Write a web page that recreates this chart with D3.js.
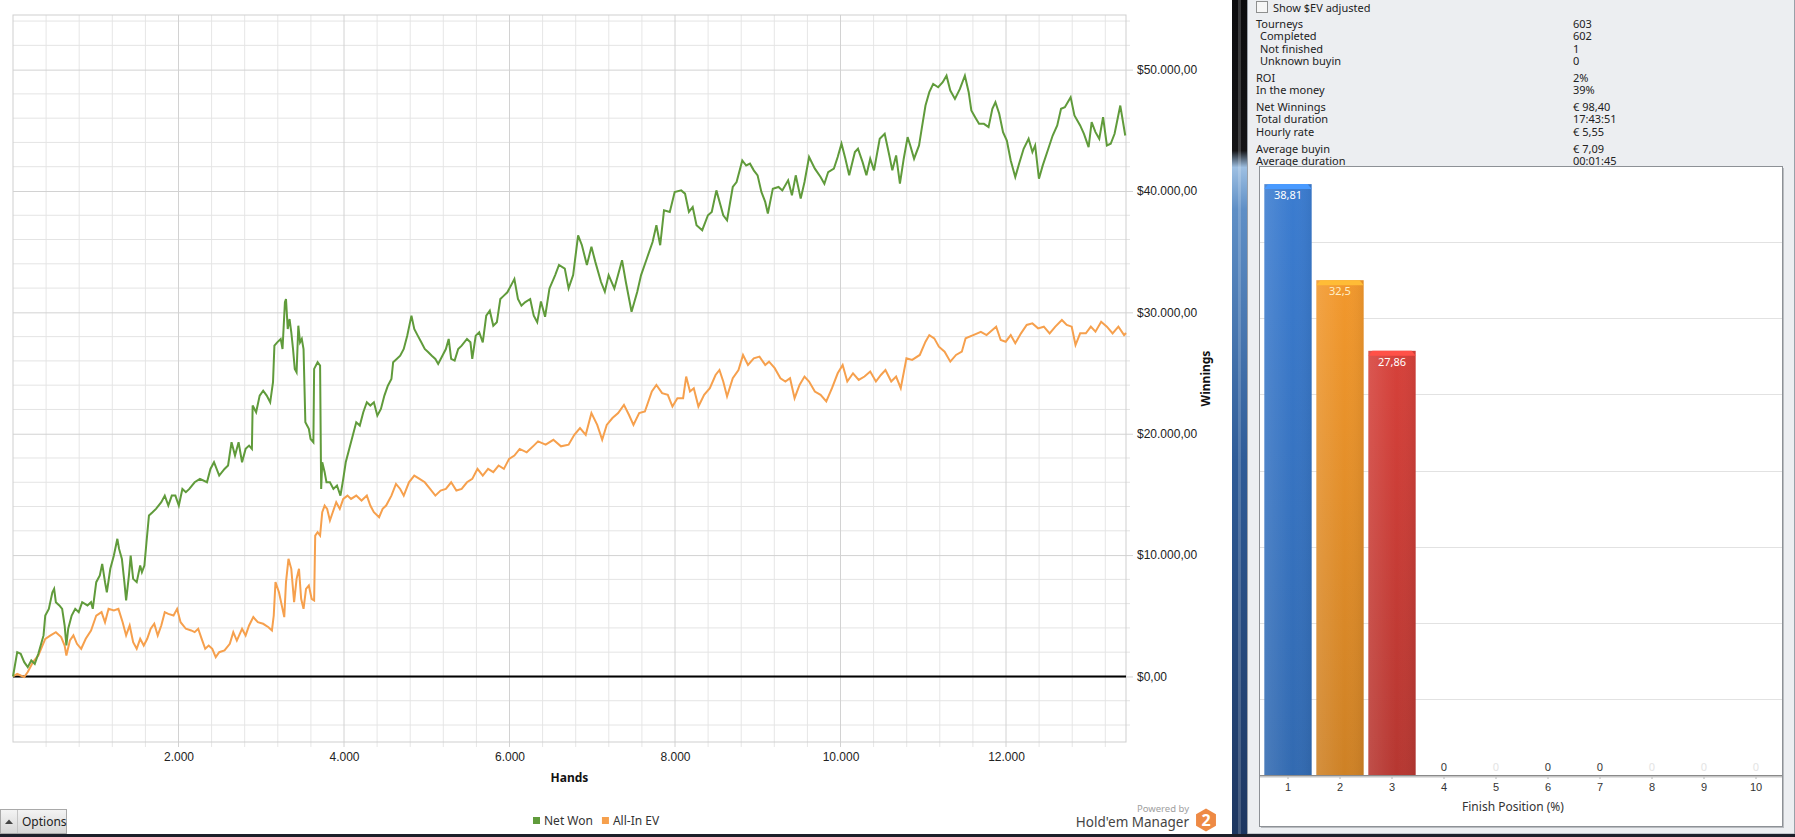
<!DOCTYPE html>
<html>
<head>
<meta charset="utf-8">
<script src="https://cdn.jsdelivr.net/npm/d3@7"></script>
<style>
body { margin: 0; background: #fff; }
svg { display: block; font-family: "Segoe UI", "Noto Sans", "Open Sans", sans-serif; }
</style>
</head>
<body>
<svg id="chart" width="1795" height="837"></svg>
<script>
// ---- data ----
// [hand, winnings]
const netWon = [[0,0],[51,2000],[93,1870],[136,1180],[178,770],[221,1320],[263,1040],[306,1870],[369,3380],[390,5020],[433,5570],[476,6940],[497,7220],[518,6120],[560,5850],[594,5570],[624,4200],[645,2550],[667,3930],[709,5020],[752,5570],[794,5300],[836,6120],[900,5850],[943,6120],[964,5570],[1006,7770],[1049,8320],[1078,9280],[1112,7770],[1134,6940],[1176,8870],[1219,9960],[1261,11340],[1282,10510],[1316,9690],[1346,7770],[1367,6260],[1401,8320],[1422,9960],[1452,8040],[1495,7770],[1537,9140],[1558,8590],[1588,9140],[1613,11060],[1643,13260],[1686,13530],[1728,13810],[1792,14360],[1834,14900],[1877,14080],[1919,14900],[1962,14900],[2004,14080],[2047,15450],[2089,15180],[2131,15450],[2195,16000],[2259,16280],[2344,16000],[2386,17100],[2429,17650],[2492,16550],[2556,17100],[2599,17380],[2641,19300],[2683,18200],[2726,19300],[2768,17650],[2811,18750],[2853,19020],[2887,18750],[2896,22320],[2938,21770],[2981,23140],[3023,23550],[3066,23140],[3108,22590],[3142,24240],[3159,27260],[3193,27530],[3235,27810],[3257,26980],[3286,30830],[3299,31100],[3320,28630],[3342,29450],[3363,28360],[3384,26980],[3405,25340],[3427,25060],[3448,28900],[3469,27530],[3490,27810],[3511,26980],[3533,20940],[3575,20400],[3596,19570],[3630,19300],[3639,25340],[3681,25890],[3711,25610],[3724,15450],[3737,17650],[3766,16830],[3788,16000],[3830,16000],[3872,15450],[3915,15730],[3957,14900],[3991,16280],[4021,17650],[4063,18750],[4106,19850],[4148,20940],[4191,20670],[4233,21770],[4276,22590],[4318,22320],[4361,22590],[4403,21490],[4446,22040],[4488,23140],[4530,23960],[4573,24510],[4594,25890],[4637,26160],[4679,26430],[4722,26980],[4764,28080],[4815,29730],[4849,28630],[4891,28080],[4934,27530],[4976,26980],[5019,26710],[5061,26430],[5104,26160],[5138,25750],[5189,26430],[5231,26980],[5265,27810],[5295,26160],[5337,26020],[5380,26980],[5422,27260],[5486,27810],[5528,27530],[5550,26160],[5592,28080],[5634,28360],[5677,27530],[5719,29730],[5762,30140],[5804,28900],[5847,29180],[5889,31100],[5932,31380],[5974,31650],[6017,32200],[6059,32750],[6102,31100],[6144,30550],[6187,30830],[6250,31100],[6293,29730],[6335,29180],[6380,30900],[6430,29640],[6483,31970],[6552,33070],[6598,33900],[6668,33600],[6714,31970],[6769,33070],[6829,36350],[6875,35530],[6935,33900],[6990,35400],[7037,34160],[7106,32500],[7152,31700],[7198,33070],[7267,31970],[7360,34300],[7406,32500],[7475,30050],[7544,31700],[7590,33070],[7660,34440],[7729,35800],[7775,37180],[7821,35530],[7867,38410],[7937,38270],[7996,39920],[8075,40050],[8121,39780],[8168,38270],[8214,38680],[8260,37180],[8329,36770],[8398,38000],[8444,38270],[8500,40050],[8550,38820],[8583,38000],[8629,37590],[8698,40330],[8744,40740],[8813,42520],[8860,42100],[8906,42250],[8952,41700],[8998,41290],[9044,39920],[9090,39100],[9122,38140],[9182,40190],[9251,40330],[9297,40050],[9367,40880],[9413,39640],[9459,41290],[9519,39370],[9565,40740],[9620,42800],[9690,41840],[9759,41150],[9805,40600],[9851,41560],[9920,41840],[9966,42800],[10012,43900],[10059,42660],[10105,41290],[10174,43210],[10211,43480],[10267,42380],[10313,41290],[10359,42660],[10405,41700],[10474,44300],[10534,44710],[10590,42930],[10626,41700],[10672,42930],[10718,40600],[10764,42660],[10811,44440],[10843,43750],[10889,42660],[10949,43750],[10981,45120],[11027,47040],[11073,48140],[11120,48820],[11180,48550],[11235,48960],[11281,49500],[11327,48270],[11383,47590],[11443,48410],[11503,49500],[11549,48140],[11581,46630],[11627,46080],[11674,45530],[11733,45530],[11789,45260],[11835,46770],[11872,47310],[11918,46360],[11964,44850],[12010,44160],[12057,42520],[12112,41150],[12158,42250],[12213,43480],[12273,44300],[12319,43210],[12352,43750],[12398,41010],[12444,42110],[12504,43340],[12564,44570],[12619,45400],[12665,46770],[12711,46900],[12781,47730],[12827,46220],[12896,45400],[12942,44710],[12998,43610],[13035,45670],[13081,44850],[13127,44300],[13173,46080],[13219,43750],[13265,43890],[13312,44710],[13381,47040],[13441,44570]];

const allInEv = [[0,0],[51,220],[93,80],[136,-50],[178,360],[242,1180],[306,1730],[348,2420],[390,3100],[454,3380],[518,3650],[582,3240],[624,2550],[645,1730],[688,2960],[730,3380],[773,2690],[824,2280],[879,3100],[943,3790],[1006,5020],[1070,5300],[1112,4470],[1155,5570],[1219,5440],[1274,5570],[1325,4470],[1367,3380],[1410,4200],[1452,2830],[1495,2280],[1537,3100],[1580,2550],[1622,3100],[1664,3930],[1707,4340],[1749,3380],[1792,4200],[1834,5300],[1877,5160],[1940,5020],[1983,5570],[2025,4470],[2089,3930],[2153,3790],[2195,3650],[2238,3930],[2280,3100],[2323,2280],[2365,2550],[2408,2280],[2450,1590],[2492,2000],[2556,2140],[2620,2690],[2662,3650],[2705,2960],[2768,3930],[2811,3380],[2853,4200],[2904,4890],[2959,4470],[3023,4340],[3087,4060],[3129,3790],[3151,5020],[3172,7770],[3214,6940],[3257,5570],[3278,4890],[3299,7770],[3329,9690],[3363,8870],[3397,6120],[3427,8040],[3456,8870],[3482,6400],[3511,5570],[3541,7220],[3575,7490],[3609,6400],[3639,6260],[3652,11610],[3681,11890],[3711,11610],[3737,13530],[3766,14080],[3796,13810],[3830,12850],[3864,13530],[3906,14360],[3949,13810],[3991,14630],[4042,14900],[4085,14630],[4148,14900],[4212,14490],[4276,14900],[4318,14080],[4361,13530],[4424,13120],[4467,13810],[4509,14080],[4573,14900],[4628,15870],[4679,15450],[4722,14900],[4785,16000],[4849,16550],[4913,16280],[4976,16000],[5040,15450],[5104,14900],[5167,15320],[5231,15450],[5295,16000],[5358,15320],[5422,15450],[5486,16000],[5550,16280],[5613,17100],[5677,16550],[5741,17100],[5804,16830],[5868,17380],[5932,17100],[5995,17930],[6059,18200],[6123,18750],[6208,18470],[6293,19020],[6345,19370],[6437,19100],[6530,19500],[6622,18960],[6714,19100],[6783,19910],[6852,20460],[6921,19910],[6990,21700],[7060,20730],[7120,19500],[7175,20730],[7244,21290],[7313,21700],[7383,22380],[7443,21560],[7498,20730],[7567,21700],[7636,21830],[7720,23480],[7775,24020],[7844,23340],[7913,23200],[7969,22240],[8029,22930],[8098,22930],[8135,24710],[8181,23480],[8227,23750],[8283,22240],[8352,23200],[8421,23750],[8490,24840],[8537,25250],[8583,24300],[8629,23070],[8698,24570],[8767,25250],[8822,26490],[8882,25670],[8952,26210],[9021,26350],[9090,25670],[9136,25940],[9205,25400],[9274,24570],[9334,24300],[9390,24570],[9445,22930],[9505,24020],[9565,24710],[9620,24300],[9690,23480],[9759,23200],[9828,22660],[9897,23750],[9966,24980],[10026,25670],[10082,24300],[10151,24980],[10220,24430],[10290,24710],[10359,25120],[10428,24300],[10488,24840],[10543,25250],[10613,24300],[10672,24710],[10728,23750],[10797,26210],[10866,26080],[10958,26490],[11027,27580],[11073,28130],[11133,27860],[11189,27170],[11258,26760],[11327,25940],[11396,26490],[11466,26760],[11512,27860],[11604,28130],[11696,28400],[11765,28130],[11835,28540],[11881,28820],[11936,27720],[11996,27580],[12057,28130],[12112,27450],[12181,28270],[12250,28960],[12319,29090],[12388,28680],[12457,28820],[12527,28270],[12596,28820],[12675,29370],[12734,28960],[12794,28820],[12840,27310],[12896,28270],[12965,28270],[13025,28820],[13081,28410],[13150,29230],[13219,28820],[13288,28270],[13358,28820],[13427,28130],[13450,28300]];

const handTicks = [2000, 4000, 6000, 8000, 10000, 12000];
const winningsTicks = [0, 10000, 20000, 30000, 40000, 50000];
const seriesNames = ['Net Won', 'All-In EV'];
const seriesColors = ['#609b3b', '#f6a04d'];

const finishPositions = ['1', '2', '3', '4', '5', '6', '7', '8', '9', '10'];
const finishPct = [38.81, 32.5, 27.86, 0, 0, 0, 0, 0, 0, 0];
const barColors = ['#3b7cd0', '#f2982c', '#d6413a', '#6aa84f', '#8e6bbf', '#3aa6a0', '#c9a227', '#d46aa8', '#7a8a99', '#b06a3a'];
const zeroLabelDark = [false, false, false, true, false, true, true, false, false, false];

const statLabels = ['Tourneys', 'Completed', 'Not finished', 'Unknown buyin', 'ROI', 'In the money', 'Net Winnings', 'Total duration', 'Hourly rate', 'Average buyin', 'Average duration'];
const statValues = ['603', '602', '1', '0', '2%', '39%', '€ 98,40', '17:43:51', '€ 5,55', '€ 7,09', '00:01:45'];
const statIndent = [0, 1, 1, 1, 0, 0, 0, 0, 0, 0, 0];
const statGroup = [0, 0, 0, 0, 1, 1, 2, 2, 2, 3, 3];

// ---- setup ----
const locale = d3.formatLocale({decimal: ',', thousands: '.', grouping: [3], currency: ['$', '']});
const fmtMoney = locale.format('$,.2f');
const fmtHands = locale.format(',d');
const fmtPct = locale.format('.4~g');

const svg = d3.select('#chart');
const defs = svg.append('defs');

// ================= main winnings chart =================
const plot = {left: 13, right: 1126, top: 15, bottom: 742};

const x = d3.scaleLinear().domain([0, 13450]).range([plot.left, plot.right]);
const y = d3.scaleLinear().domain([-5400, 54500]).range([plot.bottom, plot.top]);

const grid = svg.append('g').attr('class', 'grid');

// minor grid (every 400 hands / 2.000 $)
const minorX = d3.range(400, 13450, 400).filter(d => d % 2000 !== 0);
const minorY = d3.range(-4000, 54500, 2000).filter(d => d % 10000 !== 0);
grid.selectAll('.vminor').data(minorX).join('line')
    .attr('x1', d => x(d)).attr('x2', d => x(d))
    .attr('y1', plot.top).attr('y2', plot.bottom + 5)
    .attr('stroke', '#e6e6e6');
grid.selectAll('.hminor').data(minorY).join('line')
    .attr('class', 'hminor')
    .attr('x1', plot.left).attr('x2', plot.right + 4)
    .attr('y1', d => y(d)).attr('y2', d => y(d))
    .attr('stroke', '#e4e4e4');

// major grid
grid.selectAll('.vmajor').data(handTicks).join('line')
    .attr('class', 'vmajor')
    .attr('x1', d => x(d)).attr('x2', d => x(d))
    .attr('y1', plot.top).attr('y2', plot.bottom + 5)
    .attr('stroke', '#d2d2d2');

// plot border
svg.append('rect')
    .attr('x', plot.left).attr('y', plot.top)
    .attr('width', plot.right - plot.left).attr('height', plot.bottom - plot.top)
    .attr('fill', 'none').attr('stroke', '#cfcfcf');

// axes
const yAxis = d3.axisRight(y)
    .tickValues(winningsTicks)
    .tickSize(plot.left - plot.right - 7)
    .tickPadding(11)
    .tickFormat(fmtMoney);

const yAxisG = svg.append('g')
    .attr('transform', `translate(${plot.right + 7},0)`)
    .call(yAxis);
yAxisG.select('.domain').remove();
yAxisG.selectAll('line').attr('stroke', '#d2d2d2');
yAxisG.selectAll('text')
    .attr('x', 4)
    .attr('fill', '#222')
    .style('font-size', '12px');

const xAxis = d3.axisBottom(x)
    .tickValues(handTicks)
    .tickSize(0)
    .tickPadding(10)
    .tickFormat(fmtHands);
const xAxisG = svg.append('g')
    .attr('transform', `translate(0,${plot.bottom})`)
    .call(xAxis);
xAxisG.select('.domain').remove();
xAxisG.selectAll('text').attr('fill', '#222').style('font-size', '12px');

// zero line
svg.append('line')
    .attr('x1', plot.left).attr('x2', plot.right)
    .attr('y1', y(0)).attr('y2', y(0))
    .attr('stroke', '#000').attr('stroke-width', 2);

// series lines (EV under, net won on top)
const line = d3.line().x(d => x(d[0])).y(d => y(d[1]));
[[allInEv, seriesColors[1]], [netWon, seriesColors[0]]].forEach(([s, col]) => {
    svg.append('path')
        .datum(s)
        .attr('d', line)
        .attr('fill', 'none')
        .attr('stroke', col)
        .attr('stroke-width', 2)
        .attr('stroke-linejoin', 'miter');
});

// axis titles
svg.append('text')
    .attr('x', (plot.left + plot.right) / 2).attr('y', 782)
    .attr('text-anchor', 'middle')
    .style('font-size', '12px').style('font-weight', 'bold')
    .attr('fill', '#111')
    .text('Hands');

svg.append('text')
    .attr('transform', `translate(1210,${(plot.top + plot.bottom) / 2}) rotate(-90)`)
    .attr('text-anchor', 'middle')
    .style('font-size', '12px').style('font-weight', 'bold')
    .attr('fill', '#111')
    .text('Winnings');

// legend
const legend = svg.append('g').attr('transform', 'translate(533,821)');
let lx = 0;
seriesNames.forEach((name, i) => {
    legend.append('rect')
        .attr('x', lx).attr('y', -4).attr('width', 7).attr('height', 7)
        .attr('fill', seriesColors[i]);
    const t = legend.append('text')
        .attr('x', lx + 11).attr('y', 4)
        .style('font-size', '12px').attr('fill', '#333')
        .text(name);
    lx += 11 + t.node().getComputedTextLength() + 9;
});

// options button
const btnGrad = defs.append('linearGradient').attr('id', 'btnGrad')
    .attr('x1', 0).attr('y1', 0).attr('x2', 0).attr('y2', 1);
btnGrad.append('stop').attr('offset', '0%').attr('stop-color', '#f4f4f4');
btnGrad.append('stop').attr('offset', '100%').attr('stop-color', '#d6d6d6');
svg.append('rect')
    .attr('x', 0.5).attr('y', 809.5).attr('width', 66).attr('height', 24)
    .attr('fill', 'url(#btnGrad)').attr('stroke', '#a9a9a9');
svg.append('line').attr('x1', 17.5).attr('x2', 17.5).attr('y1', 810).attr('y2', 833).attr('stroke', '#c4c4c4');
svg.append('path').attr('d', 'M5,824 L9,819.5 L13,824 Z').attr('fill', '#444');
svg.append('text')
    .attr('x', 22).attr('y', 826)
    .style('font-size', '12px').attr('fill', '#222')
    .text('Options');

// powered by
svg.append('text')
    .attr('x', 1189).attr('y', 812).attr('text-anchor', 'end')
    .style('font-size', '9.5px').attr('fill', '#a0a0a0')
    .text('Powered by');
svg.append('text')
    .attr('x', 1189).attr('y', 827).attr('text-anchor', 'end')
    .style('font-size', '13.5px').attr('fill', '#444')
    .text("Hold'em Manager");
const hex = d3.range(6).map(k => {
    const a = Math.PI / 3 * k + Math.PI / 6;
    return [1206 + 11.5 * Math.cos(a), 820 + 11.5 * Math.sin(a)];
});
svg.append('polygon').attr('points', hex.join(' ')).attr('fill', '#ee8a45');
svg.append('text')
    .attr('x', 1206).attr('y', 826).attr('text-anchor', 'middle')
    .style('font-size', '16px').style('font-weight', 'bold').attr('fill', '#fff')
    .text('2');

// ================= separator + right panel =================
const sepGrad = defs.append('linearGradient').attr('id', 'sepGrad')
    .attr('x1', 0).attr('y1', 0).attr('x2', 0).attr('y2', 1);
[['0%', '#0c0c0e'], ['18%', '#141416'], ['20%', '#9dbfe2'], ['25%', '#5f8fc6'], ['55%', '#2f5c98'], ['100%', '#1d3660']]
    .forEach(s => sepGrad.append('stop').attr('offset', s[0]).attr('stop-color', s[1]));
svg.append('rect').attr('x', 1232).attr('y', 0).attr('width', 15).attr('height', 837).attr('fill', 'url(#sepGrad)');
svg.append('rect').attr('x', 1238).attr('y', 0).attr('width', 3).attr('height', 837).attr('fill', '#ffffff').attr('opacity', 0.18);

svg.append('rect').attr('x', 1247).attr('y', 0).attr('width', 548).attr('height', 837).attr('fill', '#eceef1');
svg.append('rect').attr('x', 1247.5).attr('y', -1).attr('width', 547).attr('height', 835).attr('fill', 'none').attr('stroke', '#9aa0a8');

// checkbox
svg.append('rect').attr('x', 1256.5).attr('y', 1.5).attr('width', 11).attr('height', 11)
    .attr('fill', '#f6f6f6').attr('stroke', '#8e8f8f');
svg.append('text').attr('x', 1273).attr('y', 11.5)
    .style('font-size', '11px').attr('fill', '#222').text('Show $EV adjusted');

// stats
let sy = 28;
const stats = svg.append('g').style('font-size', '11px').attr('fill', '#222');
statLabels.forEach((lab, i) => {
    if (i > 0) sy += 12.4 + (statGroup[i] !== statGroup[i - 1] ? 4.3 : 0);
    stats.append('text').attr('x', 1256 + statIndent[i] * 4).attr('y', sy).text(lab);
    stats.append('text').attr('x', 1573).attr('y', sy).text(statValues[i]);
});

// ================= finish position bar chart =================
const box = {left: 1259, right: 1782, top: 166, bottom: 826};
const bplot = {left: 1262, right: 1782, top: 166, bottom: 775};

svg.append('rect')
    .attr('x', box.left + 2).attr('y', box.top + 2)
    .attr('width', box.right - box.left).attr('height', box.bottom - box.top)
    .attr('fill', '#b9bcc0');
svg.append('rect')
    .attr('x', box.left + 0.5).attr('y', box.top + 0.5)
    .attr('width', box.right - box.left).attr('height', box.bottom - box.top)
    .attr('fill', '#fff').attr('stroke', '#8d9196');

const bx = d3.scaleBand().domain(finishPositions).range([bplot.left, bplot.right]).paddingInner(0.09).paddingOuter(0.045);
const by = d3.scaleLinear().domain([0, 40]).range([bplot.bottom, bplot.top]);

svg.append('g').selectAll('line').data(d3.range(5, 40, 5)).join('line')
    .attr('x1', box.left + 1).attr('x2', box.right)
    .attr('y1', d => Math.round(by(d)) + 0.5).attr('y2', d => Math.round(by(d)) + 0.5)
    .attr('stroke', '#e2e2e2');

// bar gradients
finishPositions.forEach((p, i) => {
    const c = d3.color(barColors[i]);
    const g = defs.append('linearGradient').attr('id', 'bar' + i)
        .attr('x1', 0).attr('y1', 0).attr('x2', 0).attr('y2', 1);
    g.append('stop').attr('offset', '0%').attr('stop-color', c.formatHex());
    g.append('stop').attr('offset', '100%').attr('stop-color', c.darker(0.45).formatHex());
    const h = defs.append('linearGradient').attr('id', 'barH' + i)
        .attr('x1', 0).attr('y1', 0).attr('x2', 1).attr('y2', 0);
    h.append('stop').attr('offset', '0%').attr('stop-color', '#fff').attr('stop-opacity', 0.12);
    h.append('stop').attr('offset', '60%').attr('stop-color', '#fff').attr('stop-opacity', 0);
    h.append('stop').attr('offset', '100%').attr('stop-color', '#000').attr('stop-opacity', 0.06);
});

const bars = svg.append('g');
finishPct.forEach((v, i) => {
    if (v <= 0) return;
    const bx0 = bx(finishPositions[i]);
    const top = by(v);
    const w = bx.bandwidth();
    bars.append('rect')
        .attr('x', bx0).attr('y', top)
        .attr('width', w).attr('height', bplot.bottom - top)
        .attr('fill', `url(#bar${i})`);
    bars.append('rect')
        .attr('x', bx0).attr('y', top)
        .attr('width', w).attr('height', bplot.bottom - top)
        .attr('fill', `url(#barH${i})`);
    // bevelled cap
    bars.append('path')
        .attr('d', `M${bx0},${top + 5} L${bx0 + 4},${top} L${bx0 + w - 4},${top} L${bx0 + w},${top + 5} Z`)
        .attr('fill', d3.color(barColors[i]).brighter(0.6).formatHex());
});

// value labels
svg.append('g').selectAll('text').data(finishPct).join('text')
    .attr('x', (d, i) => bx(finishPositions[i]) + bx.bandwidth() / 2)
    .attr('y', d => d > 0 ? by(d) + 15 : bplot.bottom - 4)
    .attr('text-anchor', 'middle')
    .style('font-size', '11px')
    .attr('fill', (d, i) => {
        if (d > 0) return i === 1 ? '#fff0c8' : '#ffffff';
        return zeroLabelDark[i] ? '#3a3a3a' : '#e4e4e4';
    })
    .text(d => fmtPct(d));

// baseline + x axis
const bAxis = d3.axisBottom(bx).tickSize(4).tickPadding(4);
const bAxisG = svg.append('g')
    .attr('transform', `translate(0,${bplot.bottom})`)
    .call(bAxis);
bAxisG.select('.domain').remove();
bAxisG.selectAll('line').attr('stroke', '#b0b0b0');
bAxisG.selectAll('text').attr('fill', '#333').style('font-size', '11px');
svg.append('line')
    .attr('x1', box.left + 1).attr('x2', box.right)
    .attr('y1', bplot.bottom + 1.5).attr('y2', bplot.bottom + 1.5)
    .attr('stroke', '#c6c6c6').attr('stroke-width', 2);
svg.append('line')
    .attr('x1', box.left + 1).attr('x2', box.right)
    .attr('y1', bplot.bottom + 0.5).attr('y2', bplot.bottom + 0.5)
    .attr('stroke', '#8a8a8a');

svg.append('text')
    .attr('x', 1513).attr('y', 811)
    .attr('text-anchor', 'middle')
    .style('font-size', '12px').attr('fill', '#333')
    .text('Finish Position (%)');

// bottom window frame
svg.append('rect').attr('x', 0).attr('y', 834).attr('width', 1795).attr('height', 3).attr('fill', '#1c1f2a');
</script>
</body>
</html>
